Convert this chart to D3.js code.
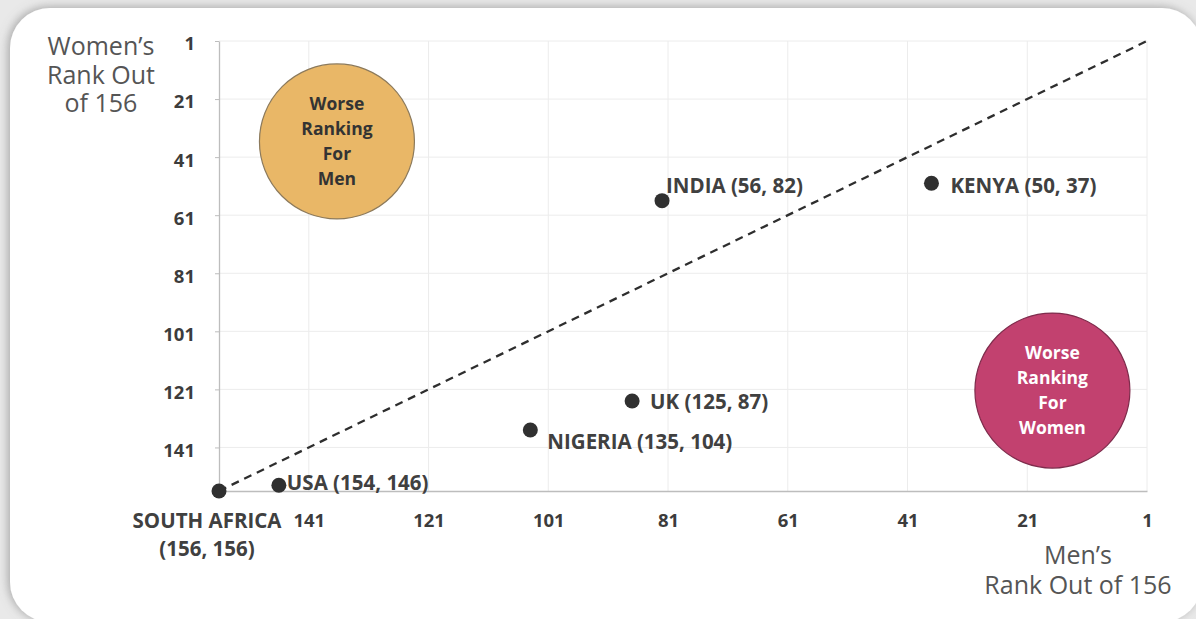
<!DOCTYPE html>
<html>
<head>
<meta charset="utf-8">
<script src="https://cdn.jsdelivr.net/npm/d3@7"></script>
<style>
  html, body { margin: 0; padding: 0; background: #ffffff; }
  svg { display: block; }
</style>
</head>
<body>
<svg id="chart" width="1196" height="619"></svg>
<script>
// ---- data: gender gap ranks (out of 156 countries) ----
const countries = ["SOUTH AFRICA", "USA", "NIGERIA", "UK", "INDIA", "KENYA"];
const womenRank = [156, 154, 135, 125, 56, 50];
const menRank   = [156, 146, 104, 87, 82, 37];

// axis ticks
const xTicks = [141, 121, 101, 81, 61, 41, 21, 1];
const yTicks = [1, 21, 41, 61, 81, 101, 121, 141];

// shaded quadrant notes: [men rank, women rank] of the bubble centre
const noteText   = [["Worse", "Ranking", "For", "Men"], ["Worse", "Ranking", "For", "Women"]];
const noteCentre = [[136.3, 35.6], [16.8, 121.4]];

// ---- layout & styling ----
const W = 1196, H = 619;
const plot = { left: 219, right: 1147, top: 41, bottom: 491 };
const FONT = "'Open Sans', 'Liberation Sans', sans-serif";
const noteFill   = ["#e9b767", "#c2416f"];
const noteStroke = ["#8c7a5c", "#7e2c4c"];
const noteInk    = ["#333333", "#ffffff"];
// label placement relative to each dot: [dx, dy, anchor]
const labelPos = [[-12, 37, "middle"], [8, 5, "start"], [17, 19, "start"],
                  [18, 8, "start"], [4, -8, "start"], [19, 10, "start"]];

const svg = d3.select("#chart");

// page background with card shadow
const defs = svg.append("defs");
const sh = defs.append("filter").attr("id", "cardShadow")
  .attr("x", "-5%").attr("y", "-5%").attr("width", "110%").attr("height", "110%");
sh.append("feDropShadow").attr("dx", -2).attr("dy", -1).attr("stdDeviation", 5)
  .attr("flood-color", "#7a7a7a").attr("flood-opacity", 0.6);

svg.append("rect").attr("width", W).attr("height", H).attr("fill", "#e9e9e9");
svg.append("rect").attr("x", 10).attr("y", 8).attr("width", 1192).attr("height", 614)
  .attr("rx", 40).attr("fill", "#ffffff").attr("filter", "url(#cardShadow)");

// scales: both ranks run from 156 (worst) to 1 (best)
const x = d3.scaleLinear().domain([156, 1]).range([plot.left, plot.right]);
const y = d3.scaleLinear().domain([1, 156]).range([plot.top, plot.bottom]);

// gridlines
const grid = svg.append("g").attr("stroke", "#ececec").attr("stroke-width", 1);
grid.selectAll("line.v").data(xTicks).join("line").attr("class", "v")
  .attr("x1", d => x(d)).attr("x2", d => x(d))
  .attr("y1", plot.top).attr("y2", plot.bottom);
grid.selectAll("line.h").data(yTicks).join("line").attr("class", "h")
  .attr("x1", plot.left).attr("x2", plot.right)
  .attr("y1", d => y(d)).attr("y2", d => y(d));

// axes
const xAxis = svg.append("g").attr("transform", `translate(0,${plot.bottom})`)
  .call(d3.axisBottom(x).tickValues(xTicks).tickSize(0).tickPadding(23).tickFormat(d3.format("d")));
const yAxis = svg.append("g").attr("transform", `translate(${plot.left},0)`)
  .call(d3.axisLeft(y).tickValues(yTicks).tickSizeInner(4).tickSizeOuter(0).tickPadding(20).tickFormat(d3.format("d")));
[xAxis, yAxis].forEach(g => {
  g.select(".domain").attr("stroke", "#bdbdbd").attr("stroke-width", 1.3);
  g.selectAll(".tick line").attr("stroke", "#bdbdbd");
  g.selectAll(".tick text").attr("fill", "#3c3c3c").attr("font-family", FONT)
    .attr("font-weight", 700).attr("font-size", 18.5);
});
yAxis.selectAll(".tick text").attr("dy", "0.48em");

// quadrant bubbles
noteCentre.forEach((c, i) => {
  const g = svg.append("g");
  g.append("circle").attr("cx", x(c[0])).attr("cy", y(c[1])).attr("r", 77.5)
    .attr("fill", noteFill[i]).attr("stroke", noteStroke[i]).attr("stroke-width", 1.2);
  const n = noteText[i].length;
  g.selectAll("text").data(noteText[i]).join("text")
    .attr("x", x(c[0]))
    .attr("y", (d, k) => y(c[1]) + (k - (n - 1) / 2) * 24.8 + 6)
    .attr("text-anchor", "middle").attr("font-family", FONT)
    .attr("font-weight", 700).attr("font-size", 17.5).attr("fill", noteInk[i])
    .text(d => d);
});

// parity line
svg.append("line")
  .attr("x1", x(156)).attr("y1", y(156)).attr("x2", x(1)).attr("y2", y(1))
  .attr("stroke", "#2e2e2e").attr("stroke-width", 2.3).attr("stroke-dasharray", "8,6");

// country dots
const pts = countries.map((c, i) => ({ name: c, w: womenRank[i], m: menRank[i], pos: labelPos[i] }));
svg.append("g").selectAll("circle").data(pts).join("circle")
  .attr("cx", d => x(d.m)).attr("cy", d => y(d.w)).attr("r", 7.5).attr("fill", "#303030");

// country labels: name (women's rank, men's rank)
const lab = svg.append("g").attr("font-family", FONT).attr("font-weight", 700)
  .attr("font-size", 20.5).attr("fill", "#404040");
pts.forEach(d => {
  const t = lab.append("text")
    .attr("x", x(d.m) + d.pos[0]).attr("y", y(d.w) + d.pos[1])
    .attr("text-anchor", d.pos[2]);
  const vals = `(${d.w}, ${d.m})`;
  if (d.pos[2] === "middle") {
    t.append("tspan").attr("x", x(d.m) + d.pos[0]).text(d.name);
    t.append("tspan").attr("x", x(d.m) + d.pos[0]).attr("dy", 28).text(vals);
  } else {
    t.text(`${d.name} ${vals}`);
  }
});

// axis titles
const titles = svg.append("g").attr("font-family", FONT).attr("font-size", 25)
  .attr("fill", "#555555").attr("text-anchor", "middle");
titles.append("text").selectAll("tspan").data(["Women\u2019s", "Rank Out", "of 156"]).join("tspan")
  .attr("x", 101).attr("y", (d, i) => 55 + i * 28.5).text(d => d);
titles.append("text").selectAll("tspan").data(["Men\u2019s", "Rank Out of 156"]).join("tspan")
  .attr("x", 1078).attr("y", (d, i) => 564 + i * 29.5).text(d => d);
</script>
</body>
</html>
